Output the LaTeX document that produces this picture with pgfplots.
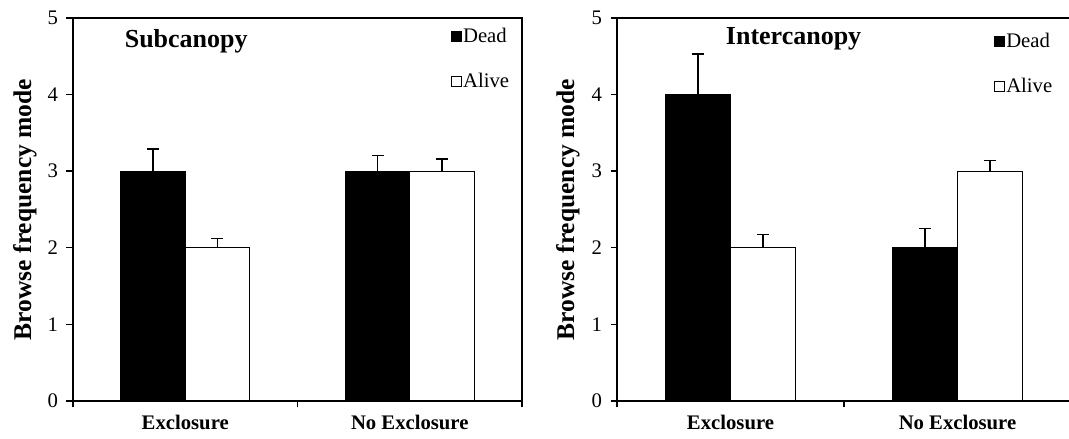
\documentclass[border=0pt]{standalone}
\usepackage{fontspec}
\setmainfont{Liberation Serif}
\usepackage{pgfplots}
\usepackage{pgfplotstable}
\pgfplotsset{compat=1.18}

\pgfplotstableread{
x y e
1 3 0.29
2 3 0.21
}\subdead
\pgfplotstableread{
x y e
1 2 0.12
2 3 0.16
}\subalive
\pgfplotstableread{
x y e
1 4 0.53
2 2 0.25
}\interdead
\pgfplotstableread{
x y e
1 2 0.17
2 3 0.14
}\interalive

\pgfplotsset{
  panel/.style={
    scale only axis, height=383pt,
    ybar, bar width=0.287,
    xmin=0.5, xmax=2.5, ymin=0, ymax=5,
    axis line style={line width=2.4pt},
    ytick={0,1,2,3,4,5}, ytick pos=left,
    tick align=outside, major tick length=6.5pt,
    tick style={line width=1.4pt, black},
    xtick={0.5,1.5,2.5}, xticklabels={}, xtick pos=bottom,
    extra x ticks={1,2},
    extra x tick labels={Exclosure, No Exclosure},
    extra x tick style={major tick length=0pt,
      xticklabel style={font=\fontsize{20.7}{24}\selectfont\bfseries, yshift=-11pt}},
    /pgf/number format/assume math mode=true,
    yticklabel style={font=\fontsize{20.7}{24}\selectfont, xshift=-5pt},
    ylabel={Browse frequency mode},
    ylabel style={font=\fontsize{25.5}{30}\selectfont\bfseries, anchor=center},
    error bars/y dir=plus, error bars/y explicit,
    error bars/error mark=|,
    error bars/error bar style={line width=1.2pt, black},
    error bars/error mark options={line width=1.2pt, black, mark size=6pt},
    legend style={draw=none, fill=none, inner sep=0pt, row sep=27pt,
      font=\fontsize{20.7}{24}\selectfont, nodes={inner sep=1pt}},
    legend cell align=left,
  },
  dead/.style={fill=black, draw=black, line width=1.2pt, bar shift=-0.1435,
    legend image code/.code={\draw[fill=black, draw=black, line width=0.8pt] (0pt,-5pt) rectangle (10pt,5pt);}},
  alive/.style={fill=white, draw=black, line width=1.2pt, bar shift=0.1435,
    legend image code/.code={\draw[fill=white, draw=black, line width=0.8pt] (0pt,-5pt) rectangle (10pt,5pt);}},
}

\begin{document}
\begin{tikzpicture}
\useasboundingbox (0,0) rectangle (1069pt,439pt);
\begin{axis}[panel, width=449pt, at={(73pt,38pt)}, anchor=south west,
  ylabel style={at={(axis description cs:-0.107,0.5)}},
  legend style={at={(axis description cs:0.842,0.976)}, anchor=north west}]
  \addplot[dead] table[x=x, y=y, y error=e] {\subdead};
  \addlegendentry{Dead}
  \addplot[alive] table[x=x, y=y, y error=e] {\subalive};
  \addlegendentry{Alive}
  \node[font=\fontsize{26}{30}\selectfont\bfseries, anchor=base west, inner sep=0pt] at (axis cs:0.73,4.62) {Subcanopy};
\end{axis}
\begin{axis}[panel, width=454pt, at={(617pt,38pt)}, anchor=south west,
  ylabel style={at={(axis description cs:-0.108,0.5)}},
  legend style={at={(axis description cs:0.831,0.963)}, anchor=north west}]
  \addplot[dead] table[x=x, y=y, y error=e] {\interdead};
  \addlegendentry{Dead}
  \addplot[alive] table[x=x, y=y, y error=e] {\interalive};
  \addlegendentry{Alive}
  \node[font=\fontsize{26}{30}\selectfont\bfseries, anchor=base west, inner sep=0pt] at (axis cs:0.979,4.65) {Intercanopy};
\end{axis}
\end{tikzpicture}
\end{document}
